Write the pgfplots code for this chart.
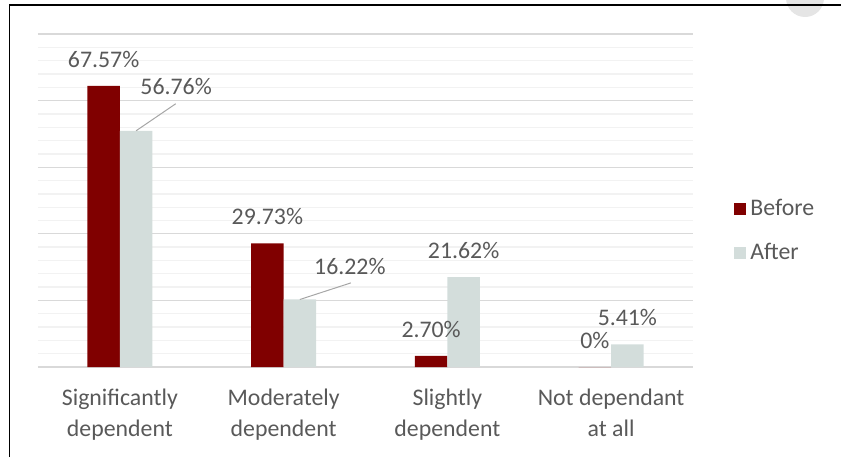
\documentclass[border=0pt]{standalone}
\usepackage{pgfplots}
\pgfplotsset{compat=1.18}
\usepackage{fontspec}
\setmainfont{Carlito}

\definecolor{beforecol}{RGB}{128,0,0}
\definecolor{aftercol}{RGB}{211,221,219}
\definecolor{textgray}{RGB}{89,89,89}
\definecolor{gridmaj}{RGB}{217,217,217}
\definecolor{gridmin}{RGB}{242,242,242}
\definecolor{leader}{RGB}{166,166,166}

\newcommand{\lblfont}{\fontsize{11.9}{15.5}\selectfont}

\begin{document}
\begin{tikzpicture}
\useasboundingbox (0,0) rectangle (420.5pt,228.5pt);
\begin{scope}
  \clip (0,0) rectangle (420.5pt,228.5pt);
  \fill[gray!20] (402.5pt,229.5pt) circle (9.5pt);
\end{scope}
\draw[line width=0.8pt] (4.75pt,0) -- (4.75pt,226pt) -- (420.5pt,226pt);

\begin{axis}[
  at={(19pt,45pt)}, anchor=south west,
  scale only axis, width=327.5pt, height=166.5pt,
  ybar=0pt, bar width=16.25pt,
  xmin=-0.5, xmax=3.5, ymin=0, ymax=80,
  xtick={0,1,2,3},
  xticklabels={{Significantly\\dependent},{Moderately\\dependent},{Slightly\\dependent},{Not dependant\\at all}},
  xticklabel style={font=\lblfont, text=textgray, align=center, anchor=north, inner sep=0pt, yshift=-10.9pt},
  ytick={0,16,...,80}, minor y tick num=4,
  yticklabels={},
  ymajorgrids, yminorgrids,
  major grid style={draw=gridmaj, line width=0.65pt},
  minor grid style={draw=gridmin, line width=0.65pt},
  axis line style={draw=none},
  major tick length=0pt, minor tick length=0pt,
  nodes near coords,
  point meta=explicit symbolic,
  every node near coord/.append style={font=\lblfont, text=textgray, inner sep=0pt, yshift=9pt},
  legend style={at={(1.0626,0.4084)}, anchor=west, draw=none, fill=none,
    inner sep=0pt, font=\lblfont, text=textgray, row sep=8.5pt},
  legend cell align=left,
  legend image code/.code={\fill[#1] (0pt,-3pt) rectangle (6pt,3pt);},
]
\addplot[fill=beforecol, draw=none] coordinates {
  (0,67.57) [67.57\%]
  (1,29.73) [29.73\%]
  (2,2.70)  [2.70\%]
  (3,0)     [0\%]
};
\addplot[fill=aftercol, draw=none,
  coordinate style/.condition={\coordindex==0}{xshift=20pt, yshift=9pt},
  coordinate style/.condition={\coordindex==1}{xshift=25pt, yshift=3pt},
] coordinates {
  (0,56.76) [56.76\%]
  (1,16.22) [16.22\%]
  (2,21.62) [21.62\%]
  (3,5.41)  [5.41\%]
};
\legend{Before,After}
% leader lines from the shifted labels back to their bars
\draw[leader, line width=0.5pt] ([xshift=8.125pt]axis cs:0,56.76) -- ++(19.8pt,13.5pt);
\draw[leader, line width=0.5pt] ([xshift=8.125pt]axis cs:1,16.22) -- ++(25.5pt,8.3pt);
\end{axis}
\end{tikzpicture}
\end{document}
